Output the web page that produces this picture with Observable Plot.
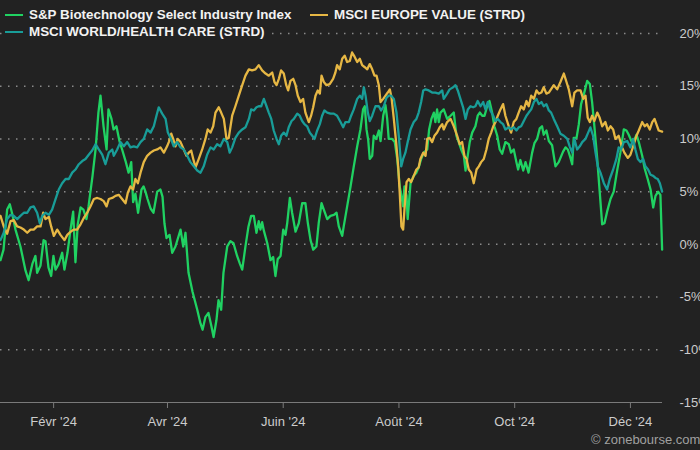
<!DOCTYPE html>
<html><head><meta charset="utf-8">
<script src="https://cdn.jsdelivr.net/npm/d3@7"></script>
<script src="https://cdn.jsdelivr.net/npm/@observablehq/plot@0.6"></script>
<style>
html,body{margin:0;padding:0;background:#222;overflow:hidden;}
#wrap{position:relative;width:700px;height:450px;font-family:"Liberation Sans",Arial,sans-serif;background:#222;}
#chart{position:absolute;left:0;top:0;}
.item{position:absolute;display:flex;align-items:center;background:#222;color:#f2f2f2;font-weight:bold;font-size:13.4px;line-height:16px;white-space:nowrap;padding-right:3px;}
.sw{width:18px;height:2px;margin-right:6px;}
#credit{position:absolute;left:591px;top:432px;color:#a0a0a0;font-size:13px;white-space:nowrap;}
</style></head>
<body>
<div id="wrap">
  <div id="chart"></div>
  <div id="legend"></div>
  <div id="credit"></div>
</div>
<script>
// ---- data: [day of year 2024 (0 = Jan 1), % change] ----
const seriesNames = ["S&P Biotechnology Select Industry Index", "MSCI EUROPE VALUE (STRD)", "MSCI WORLD/HEALTH CARE (STRD)"];
const seriesColors = ["#20d262", "#e6b744", "#199d98"];

const bioPoints = [[3.0,-1.5],[4.6,-0.5],[6.5,3.3],[7.9,3.8],[9.3,2.8],[10.9,1.4],[13.5,-0.2],[16.2,-2.5],[17.8,-3.4],[19.9,-1.8],[21.4,-1.1],[22.3,-2.7],[24.1,-2.0],[25.7,0.4],[26.7,0.3],[28.3,-2.2],[29.7,-3.0],[30.9,-1.1],[32.0,-2.4],[33.6,-1.9],[35.5,-0.8],[36.7,-2.4],[38.3,-0.8],[39.9,1.4],[41.3,3.1],[42.5,-1.7],[43.7,1.9],[45.2,3.5],[46.7,3.3],[48.3,2.4],[49.4,3.6],[51.5,6.5],[53.1,9.0],[54.6,12.5],[55.7,14.1],[57.3,11.2],[58.9,9.0],[59.9,12.8],[61.5,11.9],[62.6,10.9],[64.1,11.2],[65.7,9.8],[67.1,9.0],[68.9,7.9],[70.5,6.8],[71.9,7.8],[72.9,4.0],[74.1,4.8],[75.5,3.0],[77.3,5.2],[78.4,5.5],[79.4,5.0],[80.5,4.3],[82.1,3.4],[83.6,3.0],[85.6,5.0],[87.3,5.2],[88.4,4.5],[89.4,2.0],[90.5,0.6],[92.1,0.9],[93.5,-0.8],[95.2,-0.2],[97.9,1.4],[99.3,-0.2],[100.5,1.1],[102.1,-2.7],[104.2,-4.5],[106.7,-6.2],[108.4,-7.5],[109.5,-8.1],[111.0,-6.9],[112.6,-6.5],[114.2,-7.8],[115.3,-8.8],[116.8,-7.2],[117.9,-5.3],[119.3,-6.2],[120.5,-2.7],[122.5,-0.2],[124.2,0.3],[125.8,0.1],[127.7,-1.1],[129.1,-1.8],[130.4,-2.4],[132.1,-0.2],[133.7,1.7],[135.1,2.7],[136.5,2.7],[137.9,1.1],[139.1,2.2],[140.0,1.4],[140.9,2.1],[141.8,1.3],[143.6,0.1],[145.3,-1.5],[146.7,-1.2],[147.9,-3.0],[149.1,-1.4],[150.6,-1.1],[152.0,1.4],[153.2,0.9],[154.1,2.0],[155.5,4.4],[156.7,3.0],[158.5,1.2],[160.2,2.0],[162.0,3.9],[163.7,3.9],[165.0,2.0],[166.4,0.4],[167.8,-0.5],[169.5,-0.2],[170.7,2.0],[172.2,3.9],[173.4,3.3],[175.2,2.4],[176.9,2.7],[178.7,2.8],[180.1,3.0],[181.3,1.7],[183.1,0.8],[183.9,1.7],[185.7,3.6],[187.5,5.5],[189.2,7.4],[191.0,9.3],[192.7,10.9],[194.1,12.8],[195.0,13.1],[195.9,10.9],[196.8,9.9],[197.6,8.1],[198.9,8.4],[199.7,10.3],[201.0,10.0],[202.4,10.8],[203.3,9.8],[204.7,12.2],[205.9,13.2],[206.8,11.9],[207.6,10.0],[209.4,10.0],[210.8,9.7],[212.1,8.1],[213.4,5.5],[214.3,4.6],[215.2,3.6],[215.9,5.5],[217.0,4.6],[217.6,2.4],[219.1,5.8],[220.8,6.5],[222.2,6.8],[223.4,7.3],[224.7,8.1],[226.1,8.7],[227.9,9.0],[228.9,10.9],[230.1,11.9],[231.4,12.5],[232.2,11.6],[233.1,12.8],[234.0,11.6],[234.9,12.5],[236.6,12.8],[238.4,11.9],[240.2,12.2],[241.9,12.5],[243.3,10.3],[244.5,9.7],[245.8,9.0],[247.2,8.4],[248.1,7.0],[249.0,8.1],[250.3,9.7],[251.6,10.6],[253.3,11.2],[254.5,12.2],[255.6,12.5],[256.9,12.2],[258.1,12.2],[259.5,13.1],[260.7,13.6],[262.1,12.5],[263.3,11.2],[264.8,10.3],[266.1,9.0],[267.4,8.6],[269.1,9.7],[270.9,9.5],[272.1,8.7],[273.5,9.0],[274.9,7.8],[275.8,7.1],[277.0,8.0],[278.5,7.0],[279.7,7.8],[281.3,6.8],[283.2,8.7],[284.4,9.6],[285.8,10.0],[287.2,11.0],[288.4,11.2],[289.3,10.4],[290.7,10.8],[292.0,9.8],[293.7,9.4],[295.5,7.4],[297.2,7.8],[299.5,8.8],[300.8,9.2],[302.0,9.0],[303.4,8.2],[304.3,7.6],[305.1,10.1],[306.6,10.1],[307.8,11.4],[309.0,13.3],[310.4,14.2],[312.2,15.5],[313.6,15.2],[314.8,13.5],[316.0,11.2],[317.5,8.1],[318.8,5.0],[320.1,1.9],[321.3,2.0],[322.7,3.1],[324.5,4.3],[326.2,5.0],[328.0,7.0],[329.7,8.7],[331.5,10.9],[332.9,10.8],[334.1,10.4],[335.5,9.8],[336.8,9.8],[338.2,10.4],[339.4,9.7],[341.2,8.4],[342.5,7.2],[344.1,6.2],[345.6,5.2],[347.0,3.5],[348.2,4.6],[349.6,5.0],[350.8,4.7],[351.7,-0.5]];

const europePoints = [[3.0,2.7],[4.7,1.7],[6.5,1.0],[8.3,2.2],[10.0,2.3],[11.8,1.7],[13.5,1.6],[15.3,1.4],[17.1,1.1],[18.8,1.4],[20.5,1.4],[22.3,1.7],[24.1,1.7],[25.5,3.0],[26.7,2.4],[28.5,2.6],[29.7,1.7],[31.1,0.8],[32.9,1.4],[34.6,0.9],[36.7,0.4],[38.2,0.9],[39.9,1.2],[41.6,1.4],[43.4,1.4],[45.2,1.9],[46.9,2.5],[48.7,3.0],[50.4,3.6],[52.2,4.3],[54.0,4.4],[55.7,4.3],[57.4,4.1],[58.9,3.6],[60.1,4.3],[61.9,4.4],[63.6,4.6],[65.3,4.7],[67.1,4.3],[68.9,3.9],[70.1,4.9],[71.5,5.5],[72.9,5.2],[74.1,6.2],[75.4,5.8],[76.8,6.8],[78.5,7.8],[80.3,8.4],[82.1,8.7],[83.8,8.9],[85.6,9.0],[87.3,9.2],[89.1,8.7],[90.8,9.3],[91.7,9.7],[93.0,10.5],[94.0,10.0],[95.2,9.3],[96.4,10.0],[97.9,9.7],[99.6,9.0],[101.0,8.4],[102.2,8.7],[103.5,8.9],[104.6,8.1],[105.8,7.3],[107.5,8.1],[109.3,9.0],[111.0,10.0],[112.2,10.9],[113.7,10.6],[115.1,11.2],[116.3,12.5],[118.0,13.0],[119.3,12.5],[120.7,11.9],[122.1,10.0],[123.3,10.1],[125.1,12.2],[126.8,13.1],[128.6,14.1],[130.4,15.1],[132.1,16.0],[133.9,16.6],[135.6,16.5],[137.4,16.6],[139.1,17.0],[140.9,16.5],[142.7,16.2],[144.4,16.0],[146.2,16.3],[147.4,15.4],[148.5,15.1],[149.7,15.7],[150.9,16.5],[152.3,16.2],[153.6,15.1],[154.6,14.6],[155.8,15.5],[157.3,15.7],[158.5,15.1],[159.7,14.1],[161.1,13.5],[162.5,13.8],[163.7,12.5],[165.5,11.6],[166.7,12.2],[167.8,13.0],[169.0,14.1],[170.2,14.6],[171.3,14.3],[172.2,16.0],[173.4,15.4],[174.8,15.1],[176.5,15.2],[178.3,15.7],[179.5,16.3],[180.4,17.0],[181.8,16.6],[183.1,17.6],[184.4,17.9],[185.7,17.3],[187.1,17.4],[188.3,18.2],[189.6,17.8],[191.0,17.3],[192.4,17.6],[193.6,17.0],[195.0,16.8],[196.3,16.6],[197.6,17.1],[198.9,16.6],[200.1,16.0],[201.2,16.0],[202.4,15.1],[203.3,13.5],[204.7,13.8],[205.9,14.1],[207.1,14.4],[208.2,14.7],[209.1,13.9],[210.3,11.9],[211.5,9.7],[212.6,7.4],[213.4,4.9],[214.3,1.7],[215.2,1.4],[215.9,3.3],[217.0,5.9],[218.2,6.2],[219.4,5.9],[220.8,6.5],[222.2,7.1],[223.4,7.3],[224.3,8.1],[225.8,8.7],[227.0,8.4],[227.9,10.0],[229.2,10.1],[230.5,9.7],[231.7,10.3],[233.1,10.6],[234.5,11.1],[235.8,11.4],[236.6,10.9],[238.4,11.6],[240.2,11.9],[241.9,11.2],[243.7,10.3],[245.0,9.5],[246.3,9.7],[247.5,8.4],[248.6,8.1],[249.8,7.1],[251.1,6.8],[252.4,5.8],[253.9,7.1],[255.1,7.4],[256.3,7.8],[257.7,8.1],[259.1,9.0],[260.3,10.0],[261.6,10.6],[262.7,11.2],[263.9,11.6],[265.1,12.2],[266.5,12.8],[267.9,13.3],[269.1,12.2],[270.9,11.2],[272.1,10.6],[273.5,11.6],[274.9,11.9],[276.1,12.5],[277.4,13.1],[278.8,12.8],[280.2,13.6],[281.4,13.1],[282.7,14.1],[284.1,13.8],[285.5,14.6],[286.7,14.3],[288.1,14.4],[289.3,14.9],[290.7,14.3],[292.0,14.4],[294.6,15.1],[296.4,14.7],[298.1,15.4],[299.9,16.2],[301.3,15.4],[302.5,14.7],[304.3,13.1],[305.5,14.4],[306.9,14.6],[308.7,14.6],[310.1,13.8],[311.3,14.1],[312.5,12.0],[313.6,11.6],[314.8,12.2],[316.0,11.7],[317.5,12.5],[318.8,12.0],[320.1,11.2],[321.8,11.6],[323.1,10.8],[324.5,11.2],[325.9,10.9],[327.1,10.0],[328.8,10.3],[330.6,9.2],[331.8,8.7],[333.6,8.2],[335.0,8.5],[336.8,9.5],[338.2,10.3],[339.4,10.8],[341.2,11.6],[342.5,11.2],[343.8,11.4],[345.2,10.9],[346.5,11.6],[347.7,11.9],[349.1,11.2],[349.9,10.8],[351.7,10.7]];

const healthPoints = [[3.0,0.4],[4.7,1.1],[6.5,2.4],[8.3,2.8],[10.0,2.7],[11.8,2.4],[13.5,2.7],[15.3,3.0],[17.1,3.0],[18.8,3.5],[20.5,3.6],[22.3,3.0],[23.7,2.0],[25.0,2.7],[26.7,3.0],[28.5,2.8],[30.2,3.3],[32.0,4.3],[33.7,5.2],[35.5,5.8],[37.3,6.2],[39.0,6.2],[40.8,6.8],[42.5,7.1],[44.3,7.6],[46.1,7.9],[47.8,8.1],[49.5,8.5],[51.3,8.9],[53.1,9.5],[54.8,9.0],[56.6,8.5],[58.3,7.6],[60.1,8.7],[61.9,9.0],[62.7,8.4],[64.5,9.0],[66.2,9.7],[68.0,9.3],[69.8,9.7],[71.5,9.2],[73.2,9.3],[75.0,9.2],[76.8,9.7],[78.5,10.0],[80.3,10.9],[82.1,10.6],[83.8,11.2],[85.2,12.2],[86.4,13.0],[88.2,12.4],[90.0,11.9],[91.2,10.6],[92.6,10.1],[94.3,9.3],[96.1,9.7],[97.9,9.2],[99.6,9.0],[101.4,8.4],[103.1,7.8],[104.9,7.4],[106.7,7.0],[108.4,6.8],[110.1,7.4],[111.9,8.5],[113.7,9.2],[115.4,9.0],[117.2,9.5],[118.9,9.3],[120.7,10.0],[122.5,9.7],[123.8,8.7],[125.1,9.2],[126.8,10.1],[128.6,10.6],[130.4,10.9],[132.1,11.1],[133.9,11.9],[135.1,12.8],[136.5,12.7],[137.9,13.0],[139.1,13.1],[140.4,13.1],[141.8,13.8],[143.2,13.1],[144.4,12.5],[145.7,11.9],[147.0,10.8],[148.5,10.0],[149.7,9.5],[150.9,10.3],[152.3,10.6],[153.7,10.3],[154.9,11.1],[156.4,11.7],[157.6,11.9],[159.4,12.4],[160.7,12.2],[162.0,11.7],[163.2,11.4],[164.6,11.2],[166.0,10.6],[167.3,10.3],[168.5,10.0],[169.9,10.8],[171.3,11.4],[172.5,12.2],[173.7,12.7],[175.2,12.5],[176.9,12.4],[178.7,12.4],[180.4,12.2],[182.2,11.6],[183.6,11.1],[184.8,11.6],[186.6,11.6],[187.8,12.2],[189.2,12.8],[191.0,13.8],[192.4,14.1],[193.6,13.8],[194.5,14.9],[195.4,14.1],[196.6,12.5],[197.6,11.7],[198.9,12.2],[200.6,13.1],[202.4,13.1],[203.6,12.7],[205.0,13.1],[206.4,13.9],[207.6,14.1],[208.9,14.1],[210.3,13.8],[211.7,12.5],[212.9,10.3],[214.2,7.4],[215.2,8.1],[216.4,8.7],[217.6,9.7],[219.1,10.9],[220.8,11.6],[222.2,11.9],[223.4,12.5],[224.7,13.5],[225.8,14.6],[227.0,14.7],[228.7,14.6],[230.5,14.4],[232.2,14.4],[234.0,14.3],[235.8,14.6],[236.6,13.8],[238.4,14.3],[239.7,14.7],[241.6,14.9],[242.8,15.1],[244.0,14.6],[245.4,13.8],[246.8,13.0],[248.1,11.9],[249.3,12.8],[250.7,13.1],[252.1,13.0],[253.3,13.1],[254.5,13.6],[256.0,13.1],[257.4,13.5],[258.6,12.8],[259.8,13.5],[261.2,12.7],[262.7,12.2],[263.9,11.7],[265.1,11.9],[266.5,11.6],[267.9,11.4],[269.1,10.9],[270.9,11.1],[272.1,10.9],[273.5,11.1],[274.9,10.8],[276.1,11.1],[277.4,11.2],[278.8,11.7],[280.2,12.2],[281.4,12.5],[282.7,12.8],[284.1,13.5],[285.5,13.8],[286.7,13.3],[288.1,13.5],[289.3,13.1],[290.7,13.3],[292.0,12.7],[293.2,12.5],[294.6,11.9],[296.4,11.2],[298.1,10.5],[299.9,10.3],[301.7,10.0],[303.0,9.3],[304.3,8.7],[305.5,10.0],[306.9,9.0],[308.3,9.3],[309.6,9.7],[311.3,10.0],[312.5,10.5],[313.9,11.1],[315.3,10.3],[316.6,8.7],[317.8,7.4],[319.2,6.8],[321.0,5.8],[322.7,5.2],[324.1,6.2],[325.9,7.1],[327.6,8.1],[328.8,9.2],[330.1,9.0],[331.5,9.7],[333.3,9.8],[335.0,9.2],[336.4,10.0],[337.6,9.0],[338.9,8.1],[340.3,7.8],[341.7,8.1],[342.9,7.4],[344.3,7.1],[345.6,6.6],[347.0,6.5],[348.2,6.3],[349.4,6.2],[350.5,5.8],[351.7,5.0]];

const xTickDays = [31, 91, 152, 213, 274, 335];
const xTickLabels = ["Févr '24", "Avr '24", "Juin '24", "Août '24", "Oct '24", "Déc '24"];
const yTicks = [-15, -10, -5, 0, 5, 10, 15, 20];
const xDomainDays = [3, 351.9];
const creditText = "© zonebourse.com";

// ---- build ----
const base = Date.UTC(2024, 0, 1);
const toDate = d => new Date(base + d * 864e5);
const allPoints = [bioPoints, europePoints, healthPoints];
const tickDates = xTickDays.map(toDate);
const labelByTime = new Map(tickDates.map((d, i) => [+d, xTickLabels[i]]));

const lineMarks = allPoints.map((pts, i) =>
  Plot.line(pts, {x: p => toDate(p[0]), y: p => p[1], stroke: seriesColors[i], strokeWidth: 2.3, strokeLinejoin: "round"})
);

const chart = Plot.plot({
  width: 700, height: 450,
  marginTop: 33, marginBottom: 48, marginLeft: 0, marginRight: 38,
  style: {background: "transparent", color: "#cccccc", fontFamily: "'Liberation Sans', Arial, sans-serif", fontSize: "13px", overflow: "visible"},
  x: {type: "utc", domain: xDomainDays.map(toDate), label: null},
  y: {domain: [-15, 20], label: null},
  marks: [
    Plot.ruleY(yTicks.filter(t => t > -15), {stroke: "#8a8a8a", strokeWidth: 1.5, strokeDasharray: "1.5,6.5"}),
    Plot.ruleY([-15], {stroke: "#7a7a7a", strokeWidth: 1}),
    Plot.axisY(yTicks, {anchor: "right", tickSize: 0, tickPadding: 17, tickFormat: d => d + "%", fill: "#cccccc", fontSize: 13, label: null}),
    Plot.axisX(tickDates, {anchor: "bottom", tickSize: 6, tickPadding: 8, stroke: "#7a7a7a", fill: "#cccccc", fontSize: 13, tickFormat: d => labelByTime.get(+d), label: null}),
    ...lineMarks
  ]
});
document.getElementById("chart").appendChild(chart);

// legend
const legend = document.getElementById("legend");
const legendPos = [[5, 7], [310, 7], [5, 24]];
seriesNames.forEach((name, i) => {
  const it = document.createElement("div");
  it.className = "item";
  it.style.left = legendPos[i][0] + "px";
  it.style.top = legendPos[i][1] + "px";
  const sw = document.createElement("span");
  sw.className = "sw";
  sw.style.background = seriesColors[i];
  const tx = document.createElement("span");
  tx.textContent = name;
  it.appendChild(sw); it.appendChild(tx);
  legend.appendChild(it);
});
document.getElementById("credit").textContent = creditText;
</script>
</body></html>
